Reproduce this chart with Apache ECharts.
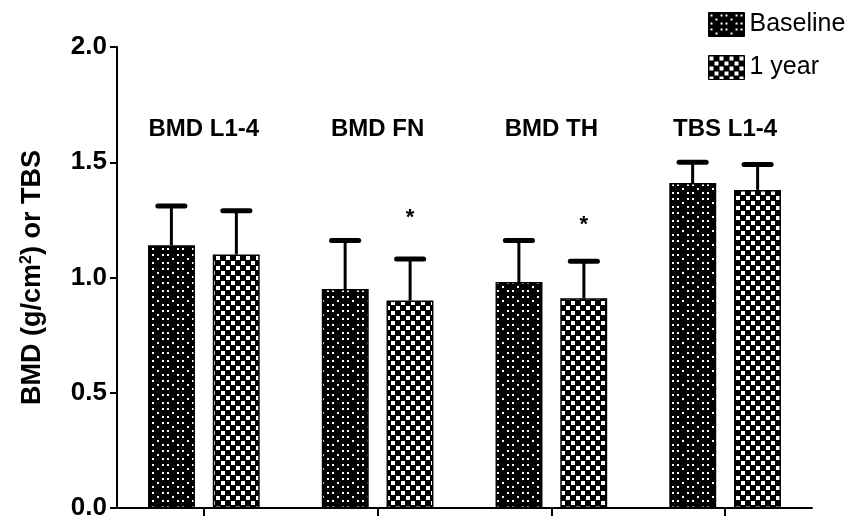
<!DOCTYPE html>
<html>
<head>
<meta charset="utf-8">
<script src="https://cdn.jsdelivr.net/npm/echarts@6/dist/echarts.min.js"></script>
<style>
html,body{margin:0;padding:0;background:#fff;}
#c{width:864px;height:521px;}
</style>
</head>
<body>
<div id="c"></div>
<script>
const categories = ['BMD L1-4', 'BMD FN', 'BMD TH', 'TBS L1-4'];
const baselineMean = [1.14, 0.95, 0.98, 1.41];
const baselineSD = [0.17, 0.21, 0.18, 0.09];
const yearMean = [1.10, 0.90, 0.91, 1.38];
const yearSD = [0.19, 0.18, 0.16, 0.11];
const starY = [null, 1.28, 1.25, null];
const seriesNames = ['Baseline', '1 year'];

function makeTile(w, h, rects) {
  const c = document.createElement('canvas');
  c.width = w; c.height = h;
  const g = c.getContext('2d');
  g.fillStyle = '#000';
  g.fillRect(0, 0, w, h);
  g.fillStyle = '#fff';
  rects.forEach(r => g.fillRect(r[0], r[1], r[2], r[3]));
  return c;
}
const baseTile = makeTile(15, 14, [[2,2,2,2],[12,2,2,2],[7,6,2,2],[2,10,2,2],[12,10,2,2]]);
const yearTile = makeTile(10, 10, [[1,1,4,4],[6,6,4,4]]);
const basePattern = {image: baseTile, repeat: 'repeat'};
const yearPattern = {image: yearTile, repeat: 'repeat'};

const FONT = 'Liberation Sans, Arial, sans-serif';
const OFF = 0.187;

function errRender(side) {
  return function (params, api) {
    const i = api.value(0), m = api.value(1), sd = api.value(2);
    const c = api.coord([i, m]);
    const t = api.coord([i, m + sd]);
    const band = api.size([1, 0])[0];
    const x = c[0] + side * band * OFF;
    const cap = band * 0.078;
    return {
      type: 'group',
      children: [
        {type: 'line', shape: {x1: x, y1: c[1], x2: x, y2: t[1]}, style: {stroke: '#000', lineWidth: 3}},
        {type: 'line', shape: {x1: x - cap, y1: t[1], x2: x + cap, y2: t[1]}, style: {stroke: '#000', lineWidth: 5, lineCap: 'round'}}
      ]
    };
  };
}
function starRender(params, api) {
  const i = api.value(0), v = api.value(1);
  const c = api.coord([i, v]);
  const band = api.size([1, 0])[0];
  return {
    type: 'text',
    style: {x: c[0] + band * OFF, y: c[1] + 5, text: '*', font: 'bold 22px ' + FONT, fill: '#000', align: 'center', verticalAlign: 'middle'}
  };
}

const chart = echarts.init(document.getElementById('c'), null, {renderer: 'canvas'});
chart.setOption({
  animation: false,
  backgroundColor: '#fff',
  grid: {left: 117, right: 52, top: 47, bottom: 8, containLabel: false},
  legend: {
    data: seriesNames,
    orient: 'vertical',
    left: 703, top: 7,
    icon: 'rect',
    itemWidth: 36, itemHeight: 24, itemGap: 18,
    itemStyle: {borderColor: '#000', borderWidth: 1},
    textStyle: {fontFamily: FONT, fontSize: 25, color: '#000', lineHeight: 24}
  },
  xAxis: [{
    type: 'category',
    data: categories,
    axisLine: {show: true, lineStyle: {color: '#000', width: 2}},
    axisTick: {show: true, alignWithLabel: true, length: 8, lineStyle: {color: '#000', width: 2}},
    axisLabel: {show: false},
    splitLine: {show: false}
  }, {
    type: 'category',
    position: 'top',
    data: categories,
    axisLine: {show: false},
    axisTick: {show: false},
    axisLabel: {show: true, margin: -94, fontFamily: FONT, fontWeight: 'bold', fontSize: 24, color: '#000'},
    splitLine: {show: false}
  }],
  yAxis: {
    type: 'value',
    min: 0, max: 2, interval: 0.5,
    name: 'BMD (g/cm{sup|2}) or TBS',
    nameLocation: 'middle',
    nameGap: 70,
    nameTextStyle: {
      fontFamily: FONT, fontWeight: 'bold', fontSize: 27, color: '#000',
      rich: {sup: {fontFamily: FONT, fontWeight: 'bold', fontSize: 16, color: '#000', verticalAlign: 'top', padding: [0, 0, 12, 0]}}
    },
    axisLine: {show: true, lineStyle: {color: '#000', width: 2}},
    axisTick: {show: true, length: 7, lineStyle: {color: '#000', width: 2}},
    axisLabel: {margin: 10, fontFamily: FONT, fontWeight: 'bold', fontSize: 26, color: '#000', formatter: v => v.toFixed(1)},
    splitLine: {show: false}
  },
  series: [
    {
      name: 'Baseline', type: 'bar', data: baselineMean,
      barWidth: '27%', barGap: '38%',
      itemStyle: {color: basePattern, borderColor: '#000', borderWidth: 1.5}
    },
    {
      name: '1 year', type: 'bar', data: yearMean,
      barWidth: '27%', barGap: '38%',
      itemStyle: {color: yearPattern, borderColor: '#000', borderWidth: 1.5}
    },
    {
      name: 'errBase', type: 'custom', z: 3,
      renderItem: errRender(-1),
      encode: {x: 0, y: 1},
      data: categories.map((c, i) => [i, baselineMean[i], baselineSD[i]])
    },
    {
      name: 'errYear', type: 'custom', z: 3,
      renderItem: errRender(1),
      encode: {x: 0, y: 1},
      data: categories.map((c, i) => [i, yearMean[i], yearSD[i]])
    },
    {
      name: 'stars', type: 'custom', z: 4,
      renderItem: starRender,
      encode: {x: 0, y: 1},
      data: categories.map((c, i) => [i, starY[i]]).filter(d => d[1] !== null)
    }
  ]
});
</script>
</body>
</html>
